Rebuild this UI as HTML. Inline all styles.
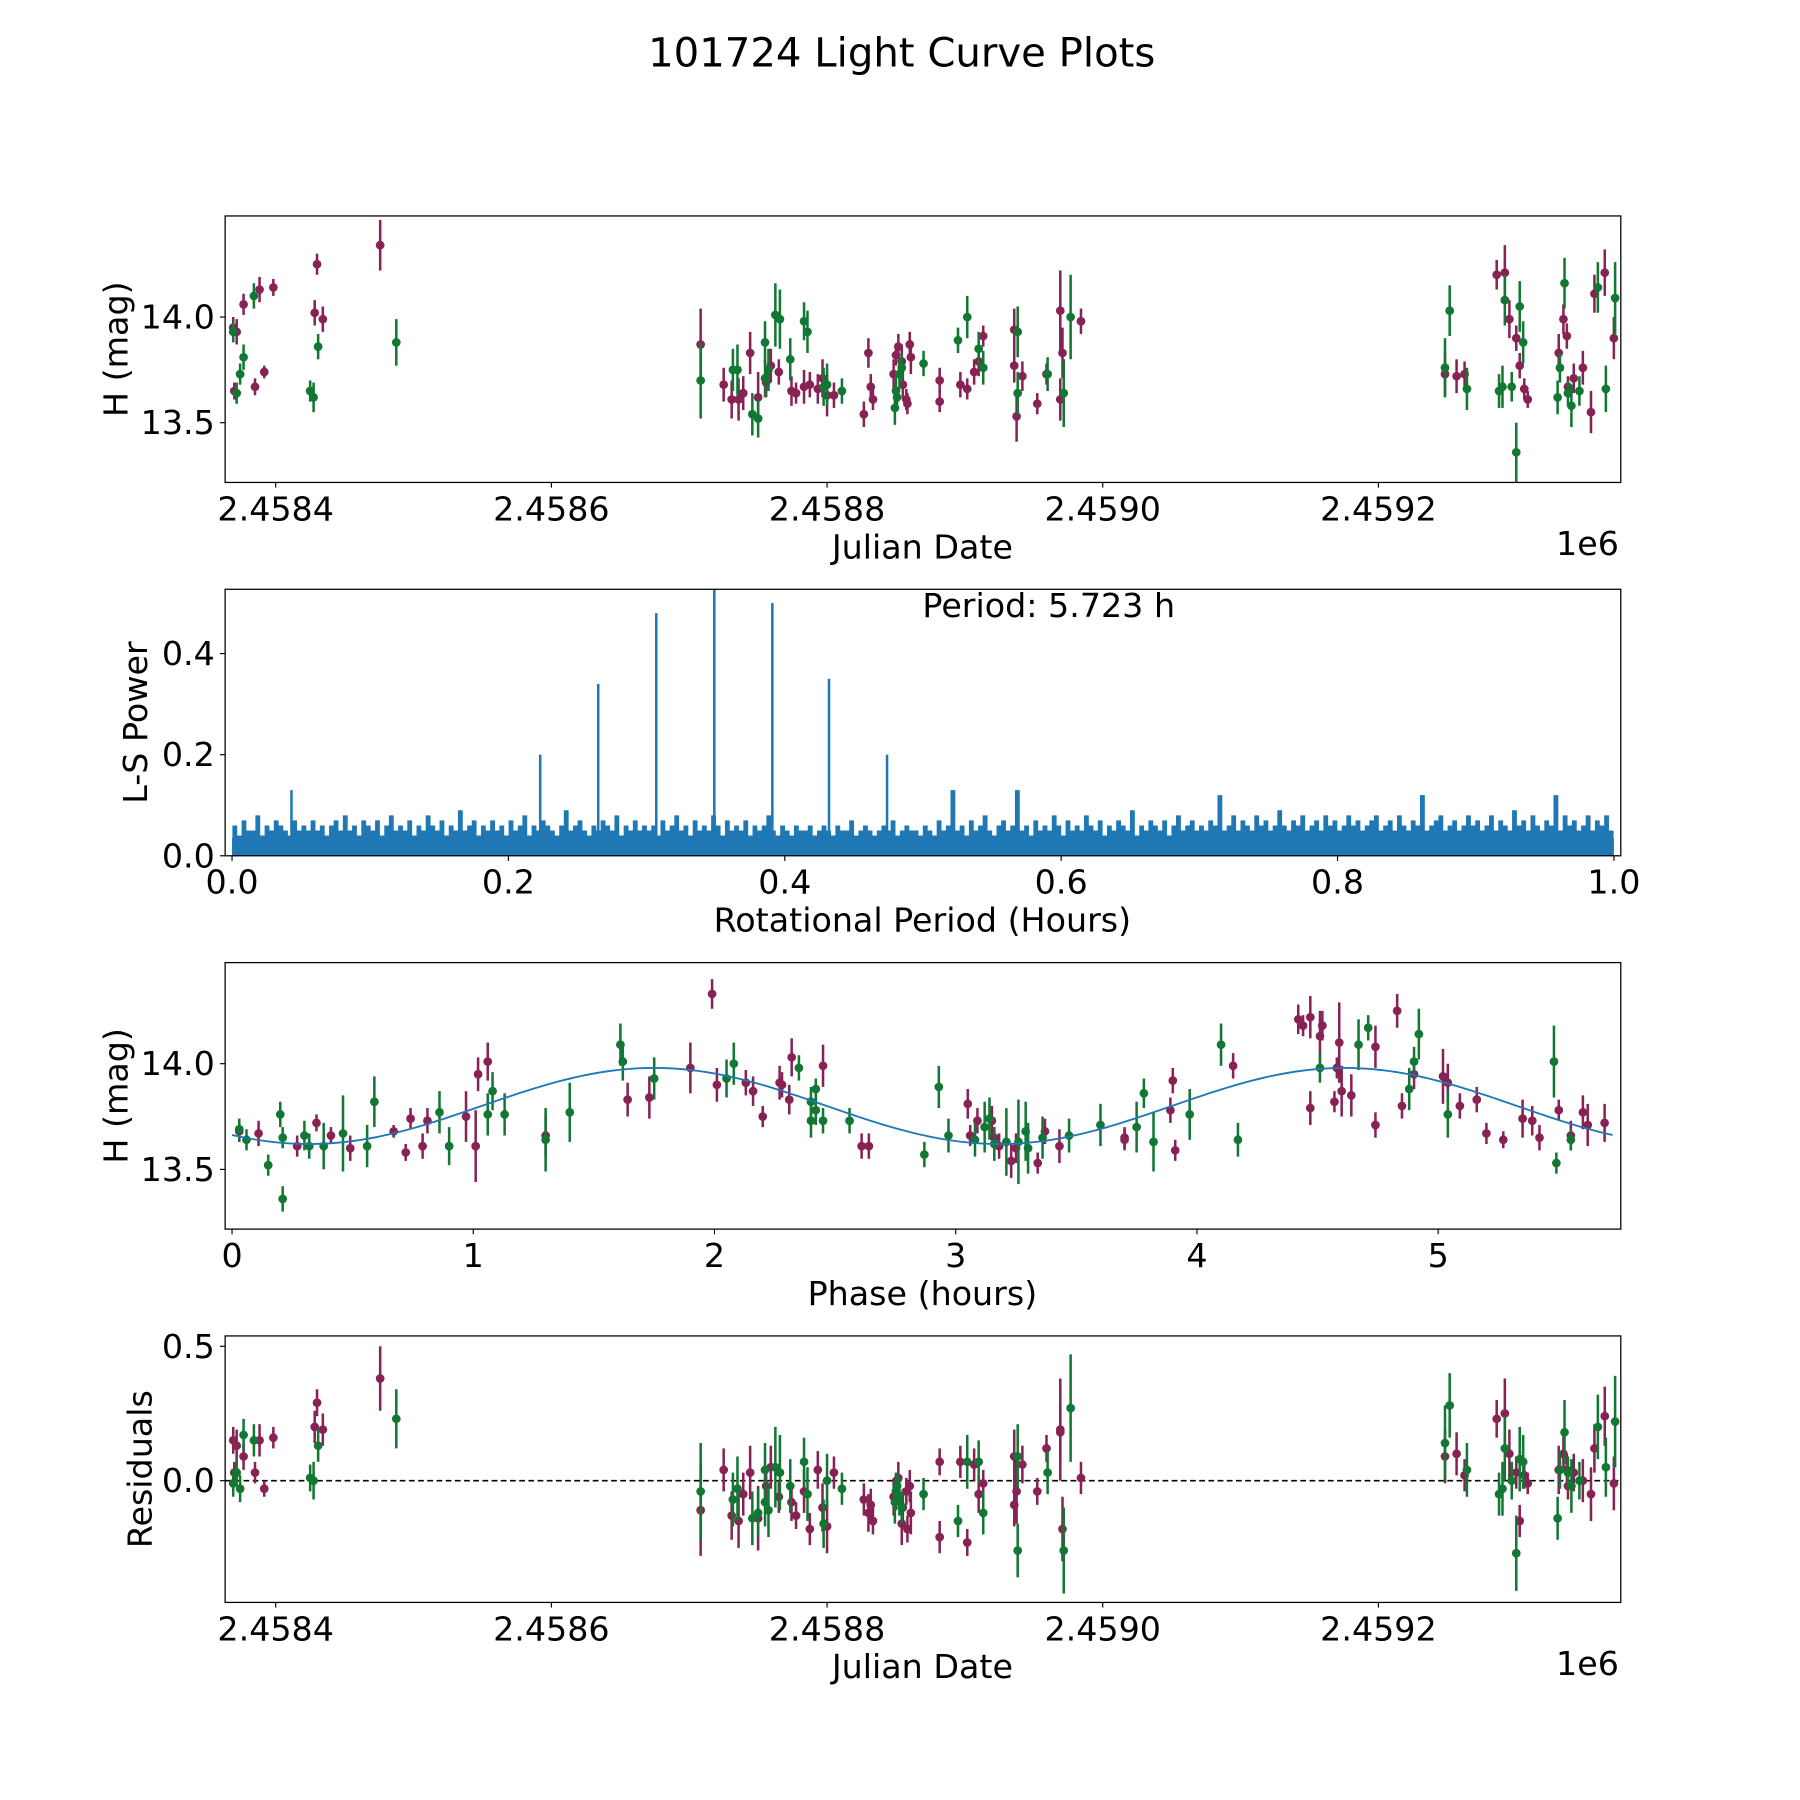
<!DOCTYPE html>
<html><head><meta charset="utf-8"><style>
html,body{margin:0;padding:0;background:#fff;}
svg{display:block;font-family:"DejaVu Sans","Liberation Sans",sans-serif;}
</style></head><body>
<svg id="fig" width="1800" height="1800" viewBox="0 0 1567 1567" xmlns="http://www.w3.org/2000/svg">
<rect width="1567" height="1567" fill="#fff"/>
<text x="785" y="58" font-size="35" text-anchor="middle">101724 Light Curve Plots</text>
</svg>
<script>
// ---------- data ----------
const jdBase = 2458400;
const purpleDay = [-30.8,-28.3,-30,-23.3,-15,-11.7,-8.3,-1.7,30,28.3,34.2,75.8,
308.3,325,330.8,335.8,339.2,344.2,350,355.8,359.2,365,374.2,377.5,383.3,387.5,393.3,396.7,400,405,426.7,430,
433.3,431.7,448.3,450,451.7,454.2,455,457.5,460,460.8,458.3,481.7,481.7,496.7,501.7,506.7,510,513.3,535.8,535.8,
537.5,541.7,552.5,559.2,569.2,570.8,569.2,584.2,
848.3,856.7,862.5,885.8,891.7,895,900,902.5,905.8,908.3,930.8,934.2,936.7,937.5,941.7,948.3,954.2,956.7,964.2,970.8];
const purpleMag = [13.95,13.93,13.65,14.06,13.67,14.13,13.74,14.14,14.25,14.02,13.99,14.34,
13.87,13.68,13.61,13.61,13.64,13.83,13.62,13.69,13.77,13.74,13.65,13.64,13.67,13.68,13.66,13.71,13.63,13.63,13.54,13.83,
13.61,13.67,13.73,13.82,13.86,13.79,13.68,13.61,13.87,13.81,13.59,13.60,13.70,13.68,13.66,13.74,13.79,13.91,13.94,13.77,
13.53,13.72,13.59,13.73,14.03,13.83,13.61,13.98,
13.73,13.72,13.73,14.20,14.21,13.99,13.90,13.77,13.66,13.61,13.83,13.99,13.91,13.67,13.71,13.76,13.55,14.11,14.21,13.90];
const purpleErr = [0.05,0.06,0.04,0.05,0.04,0.06,0.03,0.04,0.05,0.06,0.06,0.12,
0.17,0.08,0.09,0.1,0.08,0.1,0.12,0.07,0.08,0.06,0.07,0.05,0.08,0.06,0.07,0.09,0.1,0.06,0.06,0.07,
0.05,0.06,0.07,0.05,0.06,0.08,0.07,0.05,0.06,0.08,0.05,0.05,0.06,0.06,0.05,0.06,0.07,0.05,0.1,0.08,
0.12,0.07,0.05,0.05,0.19,0.12,0.1,0.06,
0.1,0.08,0.06,0.07,0.13,0.09,0.06,0.06,0.05,0.04,0.09,0.07,0.06,0.05,0.07,0.08,0.1,0.09,0.11,0.1];
const purpleRes = [0.15,0.13,0.03,0.09,0.03,0.15,-0.03,0.16,0.29,0.20,0.19,0.38,
-0.11,0.04,-0.13,-0.15,-0.05,0.03,-0.14,-0.02,0.05,-0.06,-0.08,-0.13,-0.04,-0.18,0.04,-0.10,-0.17,0.03,-0.07,-0.12,
-0.15,-0.09,-0.06,-0.04,0.01,-0.16,-0.10,-0.04,-0.02,-0.12,-0.18,0.07,-0.21,0.07,-0.23,0.06,-0.05,-0.01,0.09,-0.09,
-0.04,0.06,-0.04,0.12,0.19,-0.18,0.18,0.01,
0.09,0.10,0.02,0.23,0.25,0.10,0.03,-0.15,0.02,-0.01,0.04,0.10,0.04,-0.02,0.03,0.0,-0.05,0.12,0.24,-0.01];

const greenDay = [-30.8,-28.3,-25.8,-23.3,-15.8,25,27.5,30.8,87.5,
308.3,331.7,335,345.8,350,355,355,357.5,362.5,365.8,373.3,383.3,385.8,397.5,400,410.8,450,449.2,450.8,452.5,
454.2,470,495,501.7,510,513.3,538.3,538.3,560,571.7,576.7,
848.3,851.7,864.2,887.5,890,891.7,896.7,900,902.5,905,930,931.7,935,937.5,940,945.8,959.2,965,971.7];
const greenMag = [13.93,13.64,13.73,13.81,14.10,13.65,13.62,13.86,13.88,
13.70,13.75,13.75,13.54,13.52,13.88,13.71,13.75,14.01,13.99,13.80,13.98,13.93,13.67,13.68,13.65,13.65,13.57,13.62,13.73,
13.76,13.78,13.89,14.00,13.85,13.76,13.93,13.64,13.73,13.64,14.00,
13.76,14.03,13.66,13.65,13.67,14.08,13.67,13.36,14.05,13.88,13.62,13.76,14.16,13.64,13.58,13.65,14.14,13.66,14.09];
const greenErr = [0.05,0.05,0.05,0.06,0.06,0.05,0.07,0.06,0.11,
0.18,0.1,0.12,0.1,0.09,0.1,0.09,0.1,0.15,0.14,0.1,0.09,0.1,0.09,0.1,0.06,0.07,0.08,0.05,0.07,
0.06,0.06,0.06,0.1,0.08,0.08,0.12,0.1,0.08,0.16,0.2,
0.14,0.12,0.1,0.08,0.1,0.12,0.07,0.14,0.12,0.1,0.08,0.07,0.12,0.06,0.1,0.07,0.12,0.11,0.17];
const greenRes = [-0.01,0.03,-0.03,0.17,0.15,0.01,0.0,0.13,0.23,
-0.04,-0.07,-0.03,-0.14,-0.12,0.04,-0.08,-0.11,0.05,0.03,-0.02,0.07,-0.05,-0.16,0.0,-0.03,-0.04,-0.08,-0.02,-0.06,
-0.10,-0.05,-0.15,0.07,0.07,-0.12,0.09,-0.26,0.03,-0.26,0.27,
0.14,0.28,0.04,-0.05,-0.03,0.12,0.0,-0.27,0.08,0.07,-0.14,0.04,0.18,0.03,-0.02,0.0,0.20,0.05,0.22];

const purplePhase = [0.03,0.11,0.35,0.27,0.41,0.49,0.67,0.72,0.74,0.79,0.81,0.97,1.01,1.02,1.06,1.30,1.64,1.73,1.90,1.99,
2.01,2.13,2.16,2.20,2.27,2.28,2.31,2.32,2.45,2.61,2.64,3.05,3.06,3.09,3.15,3.16,3.18,3.23,3.25,3.34,
3.37,3.43,3.70,3.70,3.89,3.90,3.91,4.15,4.42,4.44,4.47,4.47,4.51,4.52,4.57,4.58,4.59,4.60,4.64,4.74,
4.74,4.83,4.85,4.90,5.02,5.04,5.09,5.16,5.20,5.27,5.35,5.39,5.42,5.50,5.55,5.60,5.62,5.69];
const purplePhaseMag = [13.68,13.67,13.72,13.61,13.66,13.60,13.68,13.58,13.74,13.61,13.73,13.75,13.61,13.95,14.01,13.66,13.83,13.84,13.98,14.33,
13.90,13.91,13.87,13.75,13.91,13.90,13.83,14.03,13.99,13.61,13.61,13.81,13.66,13.73,13.73,13.65,13.61,13.54,13.60,13.53,
13.68,13.61,13.65,13.64,13.78,13.92,13.59,13.99,14.21,14.18,14.22,13.79,14.13,14.18,13.82,13.98,14.10,13.87,13.85,13.71,
14.08,14.25,13.80,13.95,13.94,13.91,13.80,13.83,13.67,13.64,13.74,13.73,13.65,13.78,13.66,13.77,13.71,13.72];
const greenPhase = [0.03,0.06,0.15,0.20,0.21,0.21,0.30,0.32,0.38,0.46,0.56,0.59,0.86,0.90,1.06,1.08,1.13,1.30,1.40,1.61,
1.62,1.75,2.05,2.08,2.35,2.40,2.40,2.42,2.42,2.45,2.56,2.87,2.93,2.97,3.08,3.12,3.14,3.16,3.21,3.26,
3.29,3.30,3.36,3.47,3.60,3.75,3.78,3.82,3.97,4.10,4.17,4.51,4.67,4.71,4.88,4.90,4.92,5.04,5.48,5.55,5.49];
const greenPhaseMag = [13.69,13.64,13.52,13.76,13.36,13.65,13.66,13.61,13.61,13.67,13.61,13.82,13.77,13.61,13.76,13.87,13.76,13.64,13.77,14.09,
14.01,13.93,13.93,14.00,13.98,13.82,13.73,13.88,13.78,13.73,13.73,13.57,13.89,13.66,13.64,13.70,13.74,13.62,13.63,13.63,
13.68,13.60,13.65,13.66,13.71,13.70,13.86,13.63,13.76,14.09,13.64,13.98,14.09,14.17,13.88,14.01,14.14,13.76,14.01,13.64,13.53];

const modelPeriod = 5.723;
const modelMean = 13.80;
const modelAmp = 0.18;
const modelPeakPhase = 1.75;

const peakPeriod = [0.043,0.223,0.265,0.307,0.349,0.391,0.432,0.474];
const peakPower  = [0.13,0.20,0.34,0.48,0.54,0.50,0.35,0.20];
const noisePct = [
6,4,7,5,5,8,4,6,5,7,6,5,4,7,5,6,5,7,5,6,4,6,7,5,8,5,6,4,7,6,
5,7,4,6,8,5,6,5,7,4,6,5,8,6,5,7,4,6,5,9,5,6,7,4,6,5,7,5,6,4,
7,5,6,8,4,6,5,7,6,5,4,6,9,5,6,7,5,4,6,5,7,6,5,8,4,6,5,7,5,6,
5,6,4,7,5,6,8,5,6,4,7,5,6,5,8,6,4,7,5,6,5,7,4,6,5,6,8,5,4,6,
5,4,6,5,5,6,4,5,6,5,4,6,5,5,7,4,5,6,5,4,5,6,5,7,4,5,6,5,5,4,
6,5,4,7,5,6,13,5,6,4,7,5,6,8,5,4,6,7,5,6,13,5,6,4,7,5,6,5,8,6,
4,7,5,6,5,8,6,5,7,4,6,5,7,6,5,9,4,6,5,7,6,5,7,4,6,8,5,6,7,5,
6,5,7,6,12,5,6,8,5,7,6,5,8,6,7,5,6,9,6,5,7,6,8,5,6,7,5,8,6,7,
5,6,8,6,7,5,6,7,8,5,6,7,5,8,6,5,7,6,12,5,6,7,8,5,6,7,5,6,8,6,
7,5,6,8,5,7,6,5,9,6,7,5,8,6,5,7,6,12,5,8,6,7,5,6,8,5,7,6,8,5];

const jdTicks = [2458400,2458600,2458800,2459000,2459200];
const jdTickLabels = ["2.4584","2.4586","2.4588","2.4590","2.4592"];
const magTicks = [14.0,13.5];
const magTickLabels = ["14.0","13.5"];
const powerTicks = [0.0,0.2,0.4];
const powerTickLabels = ["0.0","0.2","0.4"];
const periodTicks = [0.0,0.2,0.4,0.6,0.8,1.0];
const periodTickLabels = ["0.0","0.2","0.4","0.6","0.8","1.0"];
const phaseTicks = [0,1,2,3,4,5];
const phaseTickLabels = ["0","1","2","3","4","5"];
const resTicks = [0.5,0.0];
const resTickLabels = ["0.5","0.0"];

// ---------- layout ----------
const NS = "http://www.w3.org/2000/svg";
const svg = document.getElementById('fig');
const L = 196, R = 1411;
const P1 = {t:188,b:420}, P2 = {t:513,b:745}, P3 = {t:838,b:1070}, P4 = {t:1163,b:1395};
const PURPLE = "#882255", GREEN = "#117733", BLUE = "#1f77b4";
const FS = 29;

function mk(tag, attrs, parent){
  const e = document.createElementNS(NS, tag);
  for (const k in attrs) e.setAttribute(k, attrs[k]);
  (parent||svg).appendChild(e);
  return e;
}
// axis functions
const xJD = jd => 240 + (jd - jdBase) * 1.2;
const yMag1 = m => 276 - (m - 14) * 184;
const xPer = p => 202 + p * 1203;
const yPow = v => 745 - v * 440;
const xPh = p => 202 + p * 210;
const yMag3 = m => 926 - (m - 14) * 184;
const yRes = r => 1289 - r * 234;

function clipFor(id, P){
  const cp = mk('clipPath', {id:id});
  mk('rect', {x:L, y:P.t, width:R-L, height:P.b-P.t}, cp);
}
clipFor('c1',P1); clipFor('c2',P2); clipFor('c3',P3); clipFor('c4',P4);

function frame(P, name){
  const r = mk('rect', {x:L, y:P.t, width:R-L, height:P.b-P.t, fill:'none', stroke:'#000', 'stroke-width':1.1});
  
  
}
function xTicks(P, vals, labels, fx, name){
  const g = mk('g', {});
  
  
  vals.forEach((v,i)=>{
    const x = fx(v);
    mk('line', {x1:x, x2:x, y1:P.b, y2:P.b+4.5, stroke:'#000', 'stroke-width':1}, g);
    const t = mk('text', {x:x, y:P.b+33, 'font-size':FS, 'text-anchor':'middle'}, g);
    t.textContent = labels[i];
  });
}
function yTicks(P, vals, labels, fy, name){
  const g = mk('g', {});
  
  
  vals.forEach((v,i)=>{
    const y = fy(v);
    mk('line', {x1:L-4.5, x2:L, y1:y, y2:y, stroke:'#000', 'stroke-width':1}, g);
    const t = mk('text', {x:L-9, y:y+10, 'font-size':FS, 'text-anchor':'end'}, g);
    t.textContent = labels[i];
  });
}
function label(txt, x, y, rot, name){
  const t = mk('text', {x:x, y:y, 'font-size':FS, 'text-anchor':'middle'});
  if (rot) t.setAttribute('transform', `rotate(-90 ${x} ${y})`);
  t.textContent = txt;
  
  
}
function errPoints(xs, ys, errs, fx, fy, color, clip, name){
  const g = mk('g', {'clip-path':`url(#${clip})`});
  
  
  xs.forEach((xv,i)=>{
    const x = fx(xv), y = fy(ys[i]);
    const e = errs[i % errs.length];
    mk('line', {x1:x, x2:x, y1:fy(ys[i]+e), y2:fy(ys[i]-e), stroke:color, 'stroke-width':2.2}, g);
    mk('circle', {cx:x, cy:y, r:3.8, fill:color}, g);
  });
}

// ---------- panel 1 ----------
errPoints(purpleDay.map(d=>jdBase+d), purpleMag, purpleErr, xJD, yMag1, PURPLE, 'c1', 'lightcurve-purple-points');
errPoints(greenDay.map(d=>jdBase+d), greenMag, greenErr, xJD, yMag1, GREEN, 'c1', 'lightcurve-green-points');
frame(P1, 'lightcurve-axes');
xTicks(P1, jdTicks, jdTickLabels, xJD, 'lightcurve-x-ticks');
yTicks(P1, magTicks, magTickLabels, yMag1, 'lightcurve-y-ticks');
label('Julian Date', 803, 486, false, 'lightcurve-x-title');
label('H (mag)', 111, 304, true, 'lightcurve-y-title');
label('1e6', 1382, 483, false, 'lightcurve-offset-label');

// ---------- panel 2 ----------
{
  const g = mk('g', {'clip-path':'url(#c2)'});
  
  
  let d = '';
  const n = noisePct.length;
  noisePct.forEach((v,i)=>{
    const p = 0.002 + i * (0.996/(n-1));
    const x = xPer(p).toFixed(2);
    d += `M${x} ${yPow(0)} L${x} ${yPow(v/100).toFixed(2)} `;
  });
  mk('path', {d:d, stroke:BLUE, 'stroke-width':4.2, fill:'none'}, g);
  mk('rect', {x:xPer(0.0), y:yPow(0.035), width:xPer(1.0)-xPer(0.0), height:yPow(0)-yPow(0.035), fill:BLUE}, g);
  peakPeriod.forEach((p,i)=>{
    const x = xPer(p);
    mk('line', {x1:x, x2:x, y1:yPow(0), y2:yPow(peakPower[i]), stroke:BLUE, 'stroke-width':2.2}, g);
  });
}
frame(P2, 'periodogram-axes');
xTicks(P2, periodTicks, periodTickLabels, xPer, 'periodogram-x-ticks');
yTicks(P2, powerTicks, powerTickLabels, yPow, 'periodogram-y-ticks');
label('Rotational Period (Hours)', 803, 811, false, 'periodogram-x-title');
label('L-S Power', 128, 629, true, 'periodogram-y-title');
label('Period: 5.723 h', 913, 537, false, 'period-annotation');

// ---------- panel 3 ----------
errPoints(purplePhase, purplePhaseMag, purpleErr, xPh, yMag3, PURPLE, 'c3', 'phase-purple-points');
errPoints(greenPhase, greenPhaseMag, greenErr, xPh, yMag3, GREEN, 'c3', 'phase-green-points');
{
  let d = '';
  for (let i=0;i<=300;i++){
    const p = modelPeriod * i / 300;
    const m = modelMean + modelAmp * Math.cos(2*Math.PI*2*(p-modelPeakPhase)/modelPeriod);
    d += (i?'L':'M') + xPh(p).toFixed(2) + ' ' + yMag3(m).toFixed(2) + ' ';
  }
  const c = mk('path', {d:d, stroke:BLUE, 'stroke-width':1.6, fill:'none', 'clip-path':'url(#c3)'});
  
  
}
frame(P3, 'phase-axes');
xTicks(P3, phaseTicks, phaseTickLabels, xPh, 'phase-x-ticks');
yTicks(P3, magTicks, magTickLabels, yMag3, 'phase-y-ticks');
label('Phase (hours)', 803, 1136, false, 'phase-x-title');
label('H (mag)', 111, 954, true, 'phase-y-title');

// ---------- panel 4 ----------
{
  const z = mk('line', {x1:L, x2:R, y1:yRes(0), y2:yRes(0), stroke:'#000', 'stroke-width':1.4, 'stroke-dasharray':'5,3'});
  
  
}
errPoints(purpleDay.map(d=>jdBase+d), purpleRes, purpleErr, xJD, yRes, PURPLE, 'c4', 'residual-purple-points');
errPoints(greenDay.map(d=>jdBase+d), greenRes, greenErr, xJD, yRes, GREEN, 'c4', 'residual-green-points');
frame(P4, 'residual-axes');
xTicks(P4, jdTicks, jdTickLabels, xJD, 'residual-x-ticks');
yTicks(P4, resTicks, resTickLabels, yRes, 'residual-y-ticks');
label('Julian Date', 803, 1461, false, 'residual-x-title');
label('Residuals', 132, 1279, true, 'residual-y-title');
label('1e6', 1382, 1458, false, 'residual-offset-label');
</script>
</body></html>
